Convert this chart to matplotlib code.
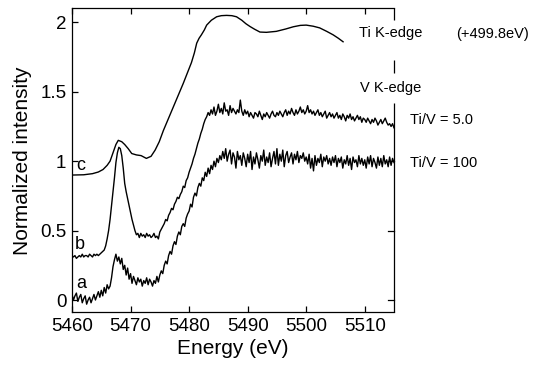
import numpy as np
import matplotlib
matplotlib.use("Agg")
import matplotlib.pyplot as plt
from matplotlib.ticker import FuncFormatter

plt.rcParams['font.family'] = ['Liberation Sans', 'DejaVu Sans']

# ---- data ----
energy_ab = np.arange(5460.0, 5515.001, 0.25)

# curve a : Ti/V = 100
intensity_a = [
    0.04, 0.00, 0.03, 0.05, -0.01, 0.02, 0.04, -0.02, 0.01, 0.03, -0.03, 0.00, 0.02, -0.02, 0.01, 0.04, 0.00, 0.03, 0.06, 0.02,
    0.07, 0.03, 0.09, 0.05, 0.11, 0.08, 0.10, 0.16, 0.24, 0.29, 0.33, 0.28, 0.31, 0.26, 0.30, 0.22, 0.25, 0.18, 0.23, 0.15,
    0.19, 0.12, 0.17, 0.14, 0.11, 0.16, 0.13, 0.15, 0.10, 0.14, 0.12, 0.16, 0.11, 0.15, 0.13, 0.10, 0.14, 0.12, 0.17, 0.13,
    0.18, 0.21, 0.19, 0.25, 0.28, 0.26, 0.32, 0.35, 0.33, 0.39, 0.42, 0.40, 0.46, 0.49, 0.47, 0.53, 0.55, 0.53, 0.59, 0.62,
    0.64, 0.69, 0.67, 0.74, 0.77, 0.75, 0.81, 0.84, 0.82, 0.88, 0.86, 0.92, 0.89, 0.95, 0.91, 0.97, 0.94, 1.00, 0.96, 1.02,
    0.99, 1.04, 1.01, 1.07, 1.02, 1.09, 1.00, 1.05, 1.08, 0.98, 1.06, 1.03, 0.95, 1.07, 1.01, 1.04, 0.97, 1.06, 1.02, 0.96,
    1.05, 0.99, 1.07, 0.94, 1.03, 0.98, 1.06, 1.01, 0.95, 1.04, 1.00, 1.08, 0.97, 1.03, 0.99, 1.06, 0.96, 1.02, 1.07, 0.98,
    1.09, 0.97, 1.05, 1.00, 1.08, 0.96, 1.04, 1.07, 0.99, 1.03, 1.06, 0.98, 1.05, 1.01, 1.07, 0.99, 1.04, 1.02, 1.06, 1.00,
    1.03, 0.98, 1.05, 0.95, 1.02, 0.93, 1.04, 0.97, 1.02, 0.99, 1.05, 0.96, 1.03, 1.00, 1.04, 0.98, 1.02, 0.97, 1.03, 0.99,
    1.04, 0.96, 1.02, 0.99, 1.03, 0.95, 1.01, 0.98, 1.04, 0.97, 1.02, 0.94, 1.03, 0.99, 1.01, 0.96, 1.04, 0.98, 1.02, 0.97,
    1.01, 0.95, 1.03, 0.98, 1.04, 0.96, 1.02, 0.99, 0.95, 1.03, 0.97, 1.02, 0.96, 1.04, 0.98, 1.01, 0.96, 1.03, 0.97, 1.02,
    0.99,
]

# curve b : Ti/V = 5.0
intensity_b = [
    0.32, 0.31, 0.32, 0.30, 0.31, 0.32, 0.31, 0.33, 0.31, 0.32, 0.32, 0.31, 0.33, 0.32, 0.31, 0.33, 0.32, 0.33, 0.32, 0.33,
    0.34, 0.35, 0.36, 0.39, 0.44, 0.50, 0.58, 0.68, 0.78, 0.88, 0.99, 1.06, 1.10, 1.09, 1.04, 0.95, 0.84, 0.78, 0.73, 0.68,
    0.63, 0.58, 0.54, 0.50, 0.47, 0.48, 0.45, 0.48, 0.46, 0.47, 0.45, 0.48, 0.46, 0.47, 0.45, 0.46, 0.48, 0.45, 0.46, 0.44,
    0.49, 0.51, 0.53, 0.55, 0.58, 0.57, 0.61, 0.63, 0.66, 0.65, 0.69, 0.71, 0.74, 0.73, 0.76, 0.78, 0.82, 0.81, 0.86, 0.88,
    0.92, 0.95, 0.98, 1.02, 1.05, 1.09, 1.13, 1.16, 1.20, 1.23, 1.27, 1.30, 1.32, 1.35, 1.33, 1.37, 1.34, 1.39, 1.33, 1.36,
    1.41, 1.35, 1.38, 1.34, 1.42, 1.36, 1.37, 1.33, 1.40, 1.35, 1.38, 1.36, 1.34, 1.37, 1.35, 1.44, 1.36, 1.33, 1.37, 1.34,
    1.36, 1.32, 1.35, 1.33, 1.31, 1.35, 1.34, 1.32, 1.36, 1.33, 1.30, 1.34, 1.32, 1.35, 1.33, 1.31, 1.34, 1.36, 1.33, 1.32,
    1.35, 1.33, 1.36, 1.34, 1.32, 1.35, 1.37, 1.33, 1.36, 1.34, 1.38, 1.35, 1.33, 1.37, 1.34, 1.36, 1.39, 1.35, 1.37, 1.34,
    1.36, 1.40, 1.35, 1.37, 1.34, 1.36, 1.33, 1.35, 1.37, 1.33, 1.35, 1.32, 1.34, 1.36, 1.31, 1.33, 1.35, 1.32, 1.34, 1.31,
    1.33, 1.35, 1.31, 1.33, 1.30, 1.34, 1.32, 1.29, 1.33, 1.31, 1.34, 1.30, 1.32, 1.29, 1.31, 1.33, 1.30, 1.32, 1.28, 1.31,
    1.30, 1.28, 1.31, 1.29, 1.27, 1.30, 1.28, 1.31, 1.29, 1.26, 1.28, 1.30, 1.27, 1.29, 1.31, 1.28, 1.26, 1.27, 1.25, 1.27,
    1.24,
]

# curve c : Ti K-edge (shifted by +499.8 eV)
energy_c = [5460.0, 5462.0, 5463.5, 5464.5, 5465.3, 5466.0, 5466.5, 5467.0,
            5467.5, 5467.9, 5468.5, 5469.0, 5469.6, 5470.2, 5471.0, 5471.8,
            5472.7, 5473.5, 5474.2, 5474.9, 5475.6, 5476.5, 5477.3, 5478.2,
            5479.0, 5479.7, 5480.4, 5480.9, 5481.3, 5481.7, 5482.1, 5482.6,
            5483.0, 5483.8, 5484.7, 5485.5, 5486.4, 5487.3, 5488.1, 5489.0,
            5489.7, 5490.4, 5491.2, 5492.1, 5493.2, 5494.9, 5496.5, 5497.8,
            5499.0, 5500.0, 5501.2, 5502.3, 5503.5, 5504.6, 5505.5, 5506.3]
intensity_c = [0.900, 0.902, 0.910, 0.922, 0.940, 0.970, 1.000, 1.060,
               1.120, 1.150, 1.140, 1.120, 1.090, 1.055, 1.045, 1.040,
               1.020, 1.035, 1.080, 1.140, 1.220, 1.310, 1.390, 1.480,
               1.560, 1.635, 1.710, 1.780, 1.850, 1.885, 1.910, 1.945,
               1.980, 2.015, 2.040, 2.048, 2.050, 2.048, 2.040, 2.015,
               1.990, 1.970, 1.950, 1.930, 1.928, 1.935, 1.952, 1.968,
               1.978, 1.980, 1.972, 1.960, 1.935, 1.910, 1.885, 1.860]

x_ticks = [5460, 5470, 5480, 5490, 5500, 5510]
y_ticks = [0, 0.5, 1, 1.5, 2]
curve_labels = ['a', 'b', 'c']
curve_label_pos = [(5460.8, 0.12), (5460.4, 0.40), (5460.8, 0.97)]

# ---- figure ----
fig = plt.figure(figsize=(5.39, 3.66), dpi=100)
ax = fig.add_axes([0.1336, 0.1467, 0.5974, 0.8306])

lw = 1.0
ax.plot(energy_ab, intensity_a, color='black', lw=lw)
ax.plot(energy_ab, intensity_b, color='black', lw=lw)
ax.plot(energy_c, intensity_c, color='black', lw=lw)

ax.set_xlim(5460, 5515)
ax.set_ylim(-0.0886, 2.101)
ax.set_xticks(x_ticks)
ax.set_yticks(y_ticks)
ax.yaxis.set_major_formatter(FuncFormatter(lambda v, p: '%g' % v))

ax.tick_params(axis='both', direction='in', length=4.3, width=0.9,
               labelsize=13.5, pad=4)
ax.tick_params(axis='x', top=True)
for s in ['left', 'bottom', 'top']:
    ax.spines[s].set_linewidth(0.9)
ax.spines['right'].set_visible(False)

# broken right spine
ytr = ax.get_yaxis_transform()
for y0, y1 in [(2.02, 2.101), (1.635, 1.73), (-0.0886, 1.42)]:
    ax.plot([1, 1], [y0, y1], transform=ytr, color='black', lw=0.9,
            clip_on=False, solid_capstyle='butt')
for v in [0, 0.5, 1]:
    ax.plot([1 - 0.0185, 1], [v, v], transform=ytr, color='black', lw=0.9,
            clip_on=False)

ax.set_xlabel('Energy (eV)', fontsize=15, labelpad=3)
ax.set_ylabel('Normalized intensity', fontsize=15, labelpad=6)

for lab, (xx, yy) in zip(curve_labels, curve_label_pos):
    ax.text(xx, yy, lab, fontsize=13, ha='left', va='center')

fs = 10.5
fig.text(359 / 539, 1 - 33.5 / 366, 'Ti K-edge', fontsize=fs, va='center', ha='left')
fig.text(456 / 539, 1 - 34 / 366, '(+499.8eV)', fontsize=fs, va='center', ha='left')
fig.text(360.5 / 539, 1 - 88 / 366, 'V K-edge', fontsize=fs, va='center', ha='left')
fig.text(410 / 539, 1 - 120 / 366, 'Ti/V = 5.0', fontsize=fs, va='center', ha='left')
fig.text(410 / 539, 1 - 163 / 366, 'Ti/V = 100', fontsize=fs, va='center', ha='left')

fig.savefig('out.png', dpi=100)
